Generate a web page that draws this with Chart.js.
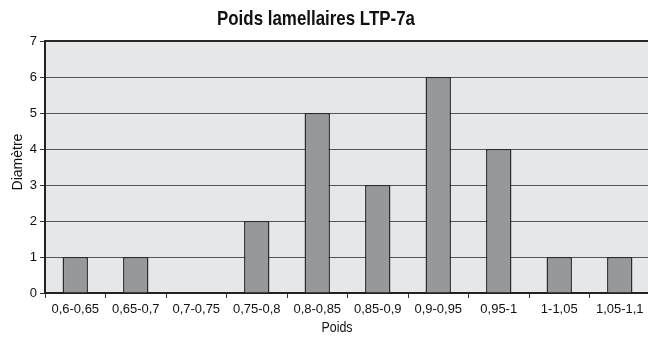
<!DOCTYPE html>
<html>
<head>
<meta charset="utf-8">
<script src="https://cdn.jsdelivr.net/npm/chart.js@4/dist/chart.umd.min.js"></script>
<style>
  html, body { margin: 0; padding: 0; background: #fff; overflow: hidden; }
  #wrap { width: 648px; height: 342px; overflow: hidden; }
  canvas { display: block; }
</style>
</head>
<body>
<div id="wrap"><canvas id="c" width="652" height="342"></canvas></div>
<script>
const chartTitle = 'Poids lamellaires LTP-7a';
const xTitle = 'Poids';
const yTitle = 'Diamètre';
const categories = ['0,6-0,65', '0,65-0,7', '0,7-0,75', '0,75-0,8', '0,8-0,85', '0,85-0,9', '0,9-0,95', '0,95-1', '1-1,05', '1,05-1,1'];
const counts = [1, 1, 0, 2, 5, 3, 6, 4, 1, 1];
const yMin = 0, yMax = 7, yStep = 1;

const FONT = "'Liberation Sans', Arial, sans-serif";

// draws text squeezed horizontally to a given width (narrow-face look)
function narrowText(ctx, text, x, y, font, width) {
  ctx.save();
  ctx.font = font;
  const w = ctx.measureText(text).width;
  const k = Math.min(1, width / w);
  ctx.translate(x, y);
  ctx.scale(k, 1);
  ctx.textAlign = 'center';
  ctx.textBaseline = 'alphabetic';
  ctx.fillText(text, 0, 0);
  ctx.restore();
}

// grey plot background, heavier top frame line, and the chart / axis titles
const plotFrame = {
  id: 'plotFrame',
  beforeDraw(chart) {
    const { ctx, chartArea: a } = chart;
    ctx.save();
    ctx.fillStyle = '#e6e7e8';
    ctx.fillRect(a.left, a.top, a.right - a.left, a.bottom - a.top);
    ctx.restore();
  },
  afterDraw(chart) {
    const { ctx, chartArea: a } = chart;
    ctx.save();
    ctx.strokeStyle = '#2a2a2a';
    ctx.lineWidth = 2;
    ctx.beginPath();
    ctx.moveTo(a.left, a.top);
    ctx.lineTo(a.right, a.top);
    ctx.stroke();

    ctx.fillStyle = '#111';
    narrowText(ctx, chartTitle, 316, 25, 'bold 21px ' + FONT, 198);
    narrowText(ctx, xTitle, 337, 332, '14px ' + FONT, 31);

    ctx.translate(22, 162);
    ctx.rotate(-Math.PI / 2);
    narrowText(ctx, yTitle, 0, 0, '14px ' + FONT, 57);
    ctx.restore();
  }
};

new Chart(document.getElementById('c'), {
  type: 'bar',
  data: {
    labels: categories,
    datasets: [{
      data: counts,
      backgroundColor: '#97989b',
      borderColor: '#2b2b2b',
      borderWidth: 1.5,
      barPercentage: 0.42,
      categoryPercentage: 1
    }]
  },
  options: {
    responsive: false,
    animation: false,
    devicePixelRatio: 1,
    layout: { padding: { left: 0, right: 2, top: 41, bottom: 0 } },
    plugins: {
      legend: { display: false },
      tooltip: { enabled: false },
      title: { display: false }
    },
    scales: {
      x: {
        offset: true,
        afterFit(scale) { scale.height = 49; },
        grid: {
          display: true,
          offset: true,
          drawOnChartArea: false,
          drawTicks: true,
          tickLength: 5,
          color: '#333',
          lineWidth: 1
        },
        border: { display: true, color: '#222', width: 2 },
        ticks: {
          color: '#111',
          font: { family: FONT, size: 13 },
          padding: 4,
          maxRotation: 0,
          autoSkip: false
        }
      },
      y: {
        min: yMin,
        max: yMax,
        afterFit(scale) { scale.width = 45; },
        grid: {
          color: '#555',
          lineWidth: 1,
          drawTicks: true,
          tickLength: 5,
          tickColor: '#333'
        },
        border: { display: true, color: '#222', width: 2 },
        ticks: {
          stepSize: yStep,
          color: '#111',
          font: { family: FONT, size: 13 },
          padding: 3
        }
      }
    }
  },
  plugins: [plotFrame]
});
</script>
</body>
</html>
